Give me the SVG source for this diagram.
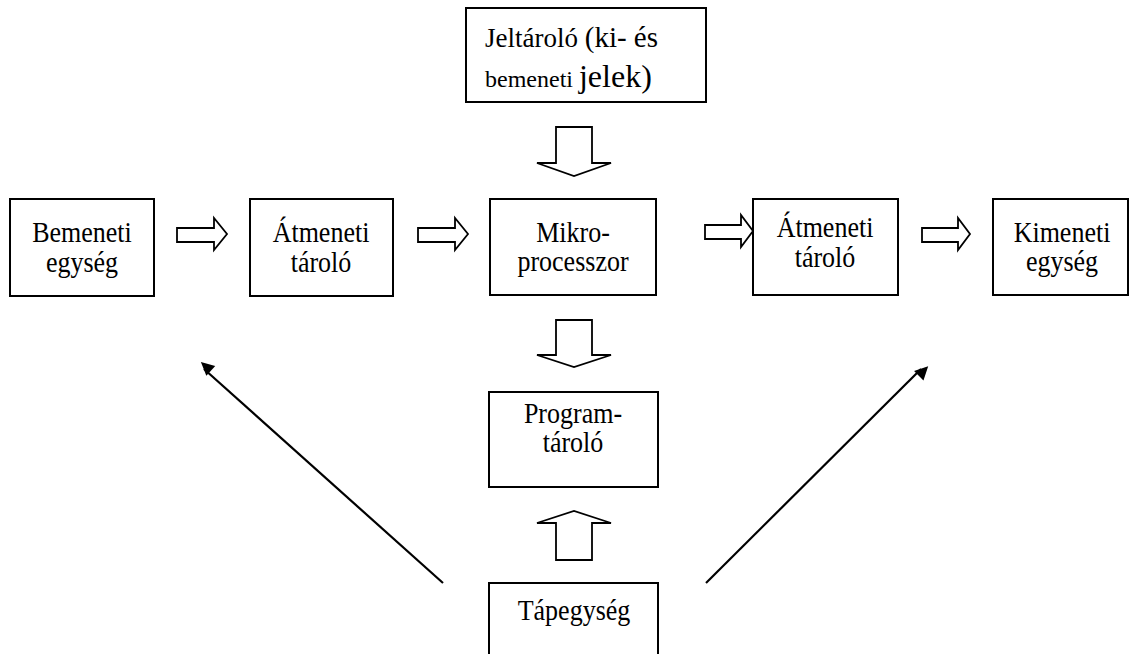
<svg xmlns="http://www.w3.org/2000/svg" width="1131" height="654" viewBox="0 0 1131 654">
  <style>
    .box { fill: #fff; stroke: #000; stroke-width: 2; }
    .lbl { font-family: "Liberation Serif", "Times New Roman", serif; font-size: 26px; fill: #000; text-anchor: middle; }
    .hollow { fill: #fff; stroke: #000; stroke-width: 1.8; stroke-linejoin: miter; }
    .line { stroke: #000; stroke-width: 2.2; fill: none; }
  </style>
  <defs>
    <marker id="head" viewBox="0 0 10 10" refX="9" refY="5" markerWidth="7" markerHeight="7" markerUnits="userSpaceOnUse" orient="auto" style="overflow:visible">
      <path d="M0,0 L10,5 L0,10 Z" fill="#000" transform="scale(1.9)" />
    </marker>
  </defs>
  <rect width="1131" height="654" fill="#fff" />

  <!-- block arrows and pointer lines -->
  <g id="connectors">
    <!-- Jeltároló -> Mikroprocesszor -->
    <polygon class="hollow" points="556,127 592,127 592,163 611,163 574,176 537,163 556,163" />
    <!-- Bemeneti -> Átmeneti -->
    <polygon class="hollow" points="177,228 214,228 214,218 227,234 214,250 214,242 177,242" />
    <!-- Átmeneti -> Mikroprocesszor -->
    <polygon class="hollow" points="418,228 455,228 455,218 468,234 455,250 455,242 418,242" />
    <!-- Mikroprocesszor -> Átmeneti -->
    <polygon class="hollow" points="705,225 741,225 741,215 753,231 741,247 741,239 705,239" />
    <!-- Átmeneti -> Kimeneti -->
    <polygon class="hollow" points="922,228 958,228 958,218 970,234 958,250 958,242 922,242" />
    <!-- Mikroprocesszor -> Programtároló -->
    <polygon class="hollow" points="556,320 592,320 592,355 611,355 574,367 537,355 556,355" />
    <!-- Tápegység -> Programtároló -->
    <polygon class="hollow" points="556,560 592,560 592,523 611,523 574,511 537,523 556,523" />
    <!-- Tápegység -> left / right -->
    <line class="line" x1="443" y1="583" x2="204" y2="369" marker-end="url(#head)" />
    <line class="line" x1="706" y1="583" x2="921" y2="369" marker-end="url(#head)" />
  </g>

  <g id="jeltarolo">
    <rect class="box" x="466" y="8" width="240" height="94" />
    <text x="485" y="47" font-family="Liberation Serif, Times New Roman, serif" fill="#000"><tspan font-size="27">Jeltároló </tspan><tspan font-size="29">(ki- és</tspan></text>
    <text x="485" y="87" font-family="Liberation Serif, Times New Roman, serif" fill="#000"><tspan font-size="24">bemeneti </tspan><tspan font-size="32">jelek)</tspan></text>
  </g>

  <g id="bemeneti">
    <rect class="box" x="10" y="199" width="144" height="97" />
    <text class="lbl" transform="translate(82,242) scale(1,1.1)"><tspan x="0" y="0">Bemeneti</tspan><tspan x="0" y="27">egység</tspan></text>
  </g>

  <g id="atmeneti1">
    <rect class="box" x="250" y="199" width="143" height="97" />
    <text class="lbl" transform="translate(321,242) scale(1,1.1)"><tspan x="0" y="0">Átmeneti</tspan><tspan x="0" y="27">tároló</tspan></text>
  </g>

  <g id="mikroprocesszor">
    <rect class="box" x="490" y="199" width="166" height="96" />
    <text class="lbl" transform="translate(573,242) scale(1,1.1)"><tspan x="0" y="0">Mikro-</tspan><tspan x="0" y="26">processzor</tspan></text>
  </g>

  <g id="atmeneti2">
    <rect class="box" x="753" y="199" width="145" height="96" />
    <text class="lbl" transform="translate(825,237) scale(1,1.1)"><tspan x="0" y="0">Átmeneti</tspan><tspan x="0" y="27">tároló</tspan></text>
  </g>

  <g id="kimeneti">
    <rect class="box" x="993" y="199" width="135" height="96" />
    <text class="lbl" transform="translate(1062,242) scale(1,1.1)"><tspan x="0" y="0">Kimeneti</tspan><tspan x="0" y="26">egység</tspan></text>
  </g>

  <g id="programtarolo">
    <rect class="box" x="489" y="392" width="169" height="95" />
    <text class="lbl" transform="translate(573,423) scale(1,1.1)"><tspan x="0" y="0">Program-</tspan><tspan x="0" y="26.5">tároló</tspan></text>
  </g>

  <g id="tapegyseg">
    <rect class="box" x="489" y="583" width="169" height="80" />
    <text class="lbl" transform="translate(574,620) scale(1,1.1)">Tápegység</text>
  </g>
</svg>
